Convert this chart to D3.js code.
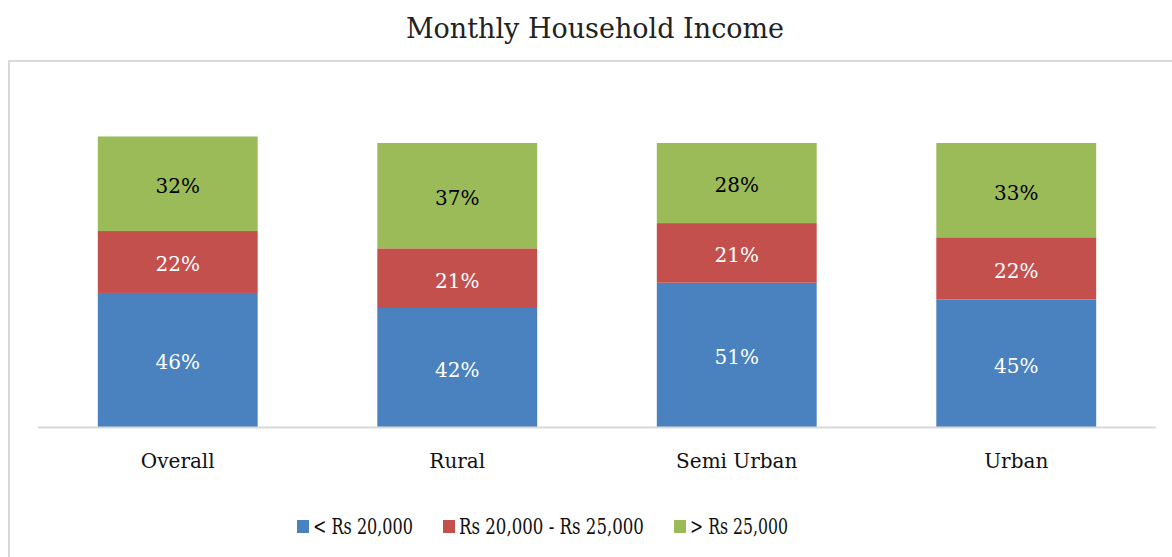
<!DOCTYPE html>
<html>
<head>
<meta charset="utf-8">
<script src="https://cdn.jsdelivr.net/npm/d3@7"></script>
<style>
  body { margin: 0; background: #fff; }
  text { font-family: "DejaVu Serif", serif; }
</style>
</head>
<body>
<script>
// categories and series (share of households, %)
var categories = ["Overall", "Rural", "Semi Urban", "Urban"];
var seriesNames = ["< Rs 20,000", "Rs 20,000 - Rs 25,000", "> Rs 25,000"];
var seriesColors = ["#4a81bf", "#c4504e", "#9bbb59"];
var labelColors = ["#fff", "#fff", "#000"];

// bar heights as drawn
var lowIncome = [47.2, 41.9, 50.8, 44.9];
var midIncome = [21.8, 21.0, 21.0, 21.9];
var highIncome = [33.3, 37.1, 28.2, 33.2];

// printed data labels
var lowLabels = ["46%", "42%", "51%", "45%"];
var midLabels = ["22%", "21%", "21%", "22%"];
var highLabels = ["32%", "37%", "28%", "33%"];

var width = 1172, height = 557;

var svg = d3.select("body").append("svg")
    .attr("width", width)
    .attr("height", height);

// chart frame
svg.append("rect")
    .attr("x", 9)
    .attr("y", 61)
    .attr("width", width + 20)
    .attr("height", height)
    .attr("fill", "none")
    .attr("stroke", "#d9d9d9")
    .attr("stroke-width", 2);

// title
svg.append("text")
    .attr("x", 595)
    .attr("y", 38)
    .attr("text-anchor", "middle")
    .attr("font-size", 27)
    .attr("fill", "#222")
    .text("Monthly Household Income");

var x = d3.scaleBand()
    .domain(categories)
    .range([38, 1156])
    .paddingInner(0.428)
    .paddingOuter(0.214);

var y = d3.scaleLinear()
    .domain([0, 100])
    .range([427, 143]);

// build table for the stack
var table = categories.map(function(c, i) {
  return { cat: c, s0: lowIncome[i], s1: midIncome[i], s2: highIncome[i],
           l0: lowLabels[i], l1: midLabels[i], l2: highLabels[i] };
});
var stack = d3.stack().keys(["s0", "s1", "s2"]);
var layers = stack(table);

var layer = svg.selectAll("g.layer")
    .data(layers)
  .enter().append("g")
    .attr("class", "layer")
    .attr("fill", function(d, i) { return seriesColors[i]; });

layer.selectAll("rect")
    .data(function(d) { return d; })
  .enter().append("rect")
    .attr("x", function(d) { return x(d.data.cat); })
    .attr("y", function(d) { return y(d[1]); })
    .attr("width", x.bandwidth())
    .attr("height", function(d) { return y(d[0]) - y(d[1]); });

// data labels
layers.forEach(function(l, i) {
  svg.append("g").selectAll("text")
      .data(l)
    .enter().append("text")
      .attr("x", function(d) { return x(d.data.cat) + x.bandwidth() / 2; })
      .attr("y", function(d) { return (y(d[0]) + y(d[1])) / 2; })
      .attr("dy", "0.47em")
      .attr("text-anchor", "middle")
      .attr("font-size", 20)
      .attr("fill", labelColors[i])
      .text(function(d) { return d.data["l" + i]; });
});

// category axis
var xAxis = svg.append("g")
    .attr("transform", "translate(0,427.5)")
    .call(d3.axisBottom(x).tickSize(0).tickPadding(26));
xAxis.select(".domain").attr("stroke", "#d9d9d9").attr("stroke-width", 2)
    .attr("d", "M38,0H1156");
xAxis.selectAll("text")
    .attr("font-family", "DejaVu Serif, serif")
    .attr("font-size", 20)
    .attr("fill", "#111");

// legend
var legendX = [297, 443, 674];
var legendTextWidth = [100, 185, 98];
var legend = svg.selectAll("g.legend")
    .data(seriesNames)
  .enter().append("g")
    .attr("class", "legend")
    .attr("transform", function(d, i) { return "translate(" + legendX[i] + ",520)"; });

legend.append("rect")
    .attr("width", 12)
    .attr("height", 13)
    .attr("fill", function(d, i) { return seriesColors[i]; });

// squeeze the wide serif so each entry keeps the reference's width
legend.append("text")
    .attr("font-size", 22)
    .attr("fill", "#111")
    .text(function(d) { return d; })
    .attr("transform", function(d, i) {
      var w = this.getComputedTextLength();
      return "translate(16,14) scale(" + (legendTextWidth[i] / w) + ",1)";
    });
</script>
</body>
</html>
